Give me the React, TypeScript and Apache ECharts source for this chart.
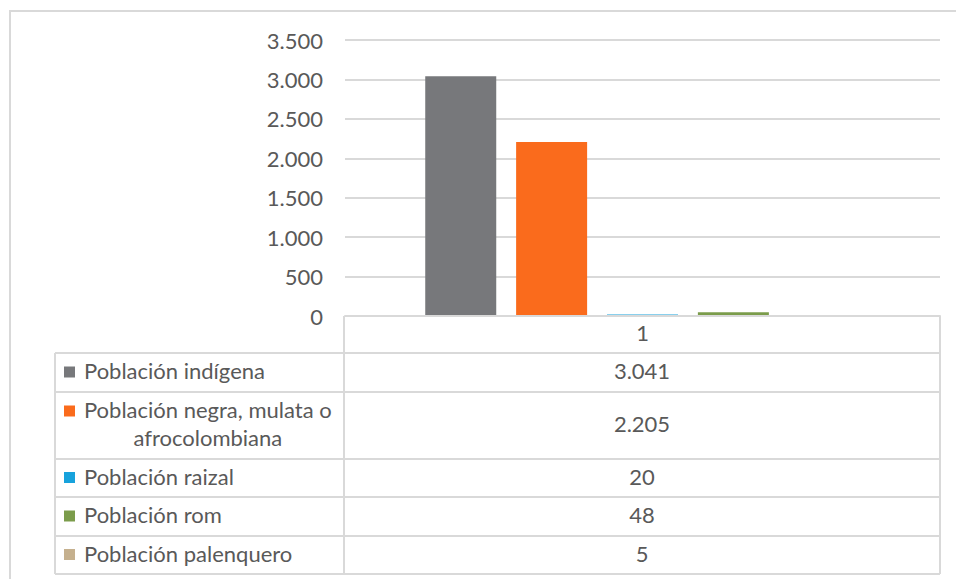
import React, { useEffect, useRef } from "react";
import * as echarts from "echarts";

const categories = ["1"];
const seriesNames = [
  "Población indígena",
  "Población negra, mulata o afrocolombiana",
  "Población raizal",
  "Población rom",
  "Población palenquero",
];
const tableLabels = [
  ["Población indígena"],
  ["Población negra, mulata o", "afrocolombiana"],
  ["Población raizal"],
  ["Población rom"],
  ["Población palenquero"],
];
const seriesValues = [3041, 2205, 20, 48, 5];
const seriesColors = ["#77787B", "#FA6B1C", "#17A2DC", "#7B9C4B", "#C5B08E"];
const yTicks = [0, 500, 1000, 1500, 2000, 2500, 3000, 3500];

const FS = 22;
const FONT = "Lato, 'Open Sans', sans-serif";
const TEXT = "#595959";
const LINE = "#D9D9D9";

const fmt = (v: number) =>
  String(Math.round(v)).replace(/\B(?=(\d{3})+(?!\d))/g, ".");

export default function App() {
  const ref = useRef<HTMLDivElement>(null);
  useEffect(() => {
    document.body.style.margin = "0";
    if (!ref.current) return;
    const chart = echarts.init(ref.current, null, { renderer: "svg" });

    const W = 956;
    const H = 579;
    const plotL = 345;
    const plotR = 940;
    const plotT = 40;
    const plotB = 316;
    const tableL = 55;
    const divX = 344;
    const rowY = [316, 353, 392, 459, 497, 536, 574];
    const textShift = -2;

    const ctx = document.createElement("canvas").getContext("2d")!;
    ctx.font = `${FS}px Lato`;

    const graphics: any[] = [];
    graphics.push({
      type: "rect",
      shape: { x: 10, y: 11, width: 980, height: 620 },
      style: { fill: "none", stroke: LINE, lineWidth: 2 },
      silent: true,
    });
    for (let i = 1; i < rowY.length; i++) {
      graphics.push({
        type: "line",
        shape: { x1: tableL, y1: rowY[i], x2: plotR, y2: rowY[i] },
        style: { stroke: LINE, lineWidth: 2 },
      });
    }
    graphics.push({
      type: "line",
      shape: { x1: tableL, y1: rowY[1], x2: tableL, y2: rowY[rowY.length - 1] },
      style: { stroke: LINE, lineWidth: 2 },
    });
    graphics.push({
      type: "line",
      shape: { x1: divX, y1: rowY[0], x2: divX, y2: rowY[rowY.length - 1] },
      style: { stroke: LINE, lineWidth: 2 },
    });
    graphics.push({
      type: "line",
      shape: { x1: plotR, y1: rowY[0], x2: plotR, y2: rowY[rowY.length - 1] },
      style: { stroke: LINE, lineWidth: 2 },
    });

    const valueX = (divX + plotR) / 2;
    seriesNames.forEach((_, i) => {
      const top = rowY[i + 1];
      const bottom = rowY[i + 2];
      const cy = (top + bottom) / 2;
      const lines = tableLabels[i];
      const lh = 28;
      const firstY = cy - ((lines.length - 1) * lh) / 2;
      graphics.push({
        type: "rect",
        shape: { x: 64, y: firstY - 6, width: 11, height: 11 },
        style: { fill: seriesColors[i] },
      });
      if (lines.length === 1) {
        graphics.push({
          type: "text",
          x: 84,
          y: cy + textShift,
          style: {
            text: lines[0],
            font: `${FS}px ${FONT}`,
            fill: TEXT,
            textAlign: "left",
            textVerticalAlign: "middle",
          },
        });
      } else {
        const w = ctx.measureText(lines[0]).width;
        const cx = 84 + w / 2;
        lines.forEach((ln, j) => {
          graphics.push({
            type: "text",
            x: cx,
            y: firstY + j * lh + textShift,
            style: {
              text: ln,
              font: `${FS}px ${FONT}`,
              fill: TEXT,
              textAlign: "center",
              textVerticalAlign: "middle",
            },
          });
        });
      }
      graphics.push({
        type: "text",
        x: valueX,
        y: cy + textShift,
        style: {
          text: fmt(seriesValues[i]),
          font: `${FS}px ${FONT}`,
          fill: TEXT,
          textAlign: "center",
          textVerticalAlign: "middle",
        },
      });
    });

    chart.setOption({
      animation: false,
      grid: {
        left: plotL,
        right: W - plotR,
        top: plotT,
        bottom: H - plotB,
        containLabel: false,
      },
      xAxis: {
        type: "category",
        data: categories,
        z: 5,
        axisLine: { show: true, lineStyle: { color: LINE, width: 2 } },
        axisTick: { show: false },
        axisLabel: {
          color: TEXT,
          fontSize: FS,
          fontFamily: FONT,
          margin: 5,
        },
      },
      yAxis: {
        type: "value",
        min: yTicks[0],
        max: yTicks[yTicks.length - 1],
        interval: 500,
        axisLine: { show: false },
        axisTick: { show: false },
        splitLine: { lineStyle: { color: LINE, width: 2 } },
        axisLabel: {
          color: TEXT,
          fontSize: FS,
          fontFamily: FONT,
          margin: 22,
          formatter: (v: number) => fmt(v),
        },
      },
      series: seriesNames.map((name, i) => ({
        name,
        type: "bar",
        data: [seriesValues[i]],
        barWidth: 71,
        barGap: "28%",
        itemStyle: { color: seriesColors[i] },
      })),
      graphic: graphics,
    });

    return () => chart.dispose();
  }, []);
  return <div ref={ref} style={{ width: 956, height: 579 }} />;
}
